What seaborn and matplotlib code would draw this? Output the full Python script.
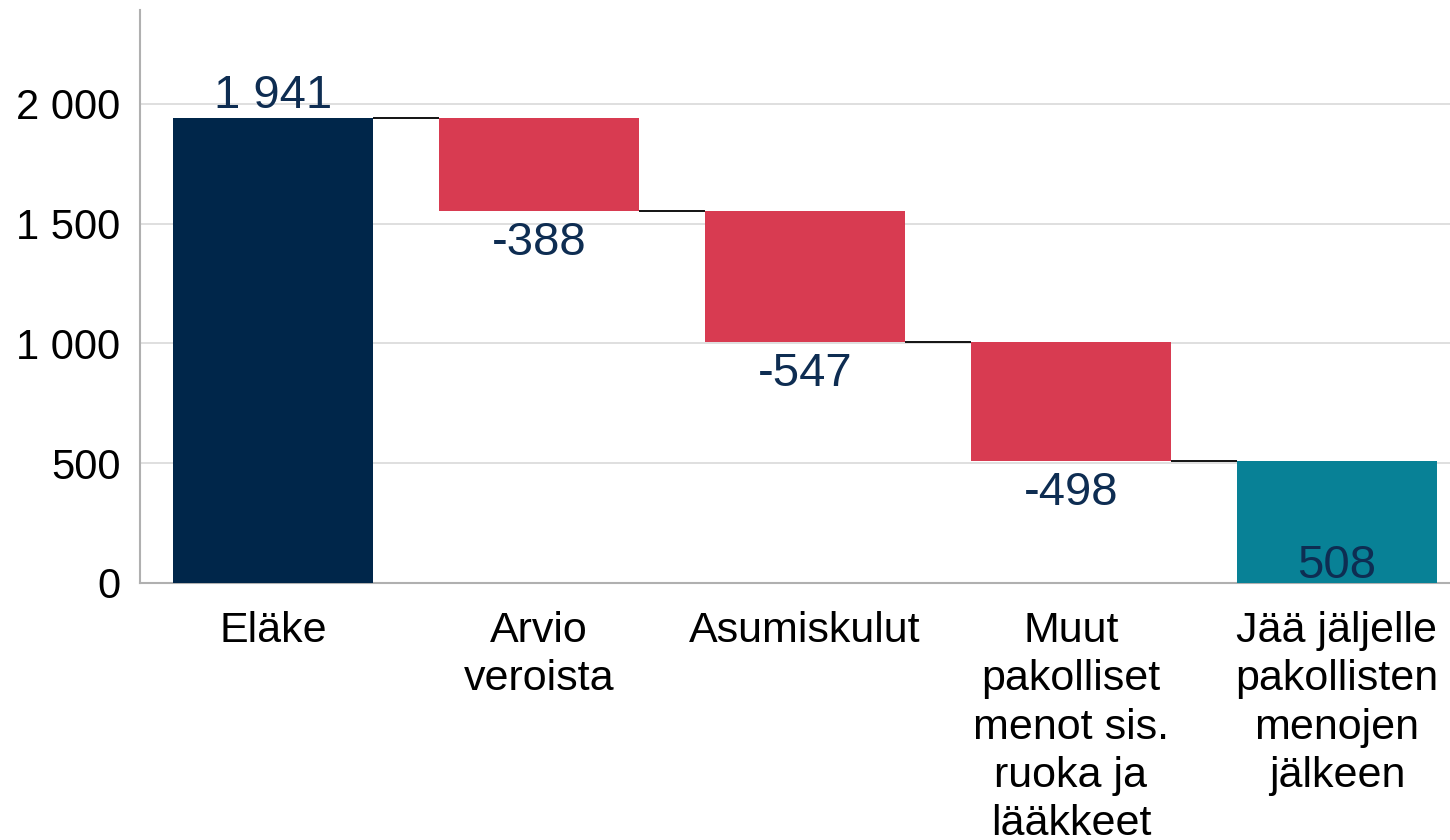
import numpy as np
import seaborn as sns
import matplotlib.pyplot as plt
from matplotlib.ticker import FuncFormatter

# data
categories = ["Eläke", "Arvio\nveroista", "Asumiskulut",
              "Muut\npakolliset\nmenot sis.\nruoka ja\nlääkkeet",
              "Jää jäljelle\npakollisten\nmenojen\njälkeen"]
changes = [1941, -388, -547, -498]
remaining = 508
bar_colors = ["#00264a", "#d83b51", "#d83b51", "#d83b51", "#088196"]
label_color = "#0e2d52"

# waterfall geometry from the data
levels = np.cumsum(changes)            # 1941, 1553, 1006, 508
bottoms = [0] + list(levels[1:]) + [0]
heights = [changes[0]] + [-c for c in changes[1:]] + [remaining]
labels = [changes[0]] + changes[1:] + [remaining]

sns.set_theme(style="white")
plt.rcParams['font.family'] = ['Liberation Sans', 'DejaVu Sans']

fig = plt.figure(figsize=(14.5, 8.4), dpi=100)
ax = fig.add_axes([140 / 1450, 1 - 583 / 840, 1 - 140 / 1450, (583 - 10) / 840])

width = 0.75
sns.barplot(x=categories, y=heights, bottom=bottoms, color=bar_colors[0],
            width=width, ax=ax, zorder=3, linewidth=0)
for patch, c in zip(ax.patches, bar_colors):
    patch.set_facecolor(c)
    patch.set_edgecolor(c)

# connector lines
for i, lev in enumerate(levels):
    ax.plot([i + width / 2, i + 1 - width / 2], [lev, lev], color="black",
            lw=1.3, zorder=4, solid_capstyle="butt")

def fmt(v):
    return f"{v:,.0f}".replace(",", " ")

# value labels
for i, (b, h, v) in enumerate(zip(bottoms, heights, labels)):
    if i == 0:
        ax.text(i, b + h + 42, fmt(v), ha="center", va="baseline",
                fontsize=34, color=label_color, zorder=5)
    elif i == len(labels) - 1:
        ax.text(i, b + 22, fmt(v), ha="center", va="baseline",
                fontsize=34, color=label_color, zorder=5)
    else:
        ax.text(i, b - 42, fmt(v), ha="center", va="top",
                fontsize=34, color=label_color, zorder=5)

ax.set_ylim(0, 2392)
ax.set_xlim(-0.5, 4.425)
ax.set_yticks([0, 500, 1000, 1500, 2000])
ax.yaxis.set_major_formatter(FuncFormatter(lambda v, p: fmt(v)))
ax.grid(axis="y", color="#d9d9d9", lw=1.2, zorder=0)
ax.set_axisbelow(True)

for s in ["top", "right"]:
    ax.spines[s].set_visible(False)
for s in ["left", "bottom"]:
    ax.spines[s].set_color("#b0b0b0")
    ax.spines[s].set_linewidth(1.5)

ax.tick_params(axis="y", labelsize=30, length=0, pad=14, colors="black")
ax.tick_params(axis="x", labelsize=31, length=0, pad=20, colors="black")
for t in ax.get_xticklabels():
    t.set_linespacing(1.27)

fig.savefig("out.png", dpi=100)
